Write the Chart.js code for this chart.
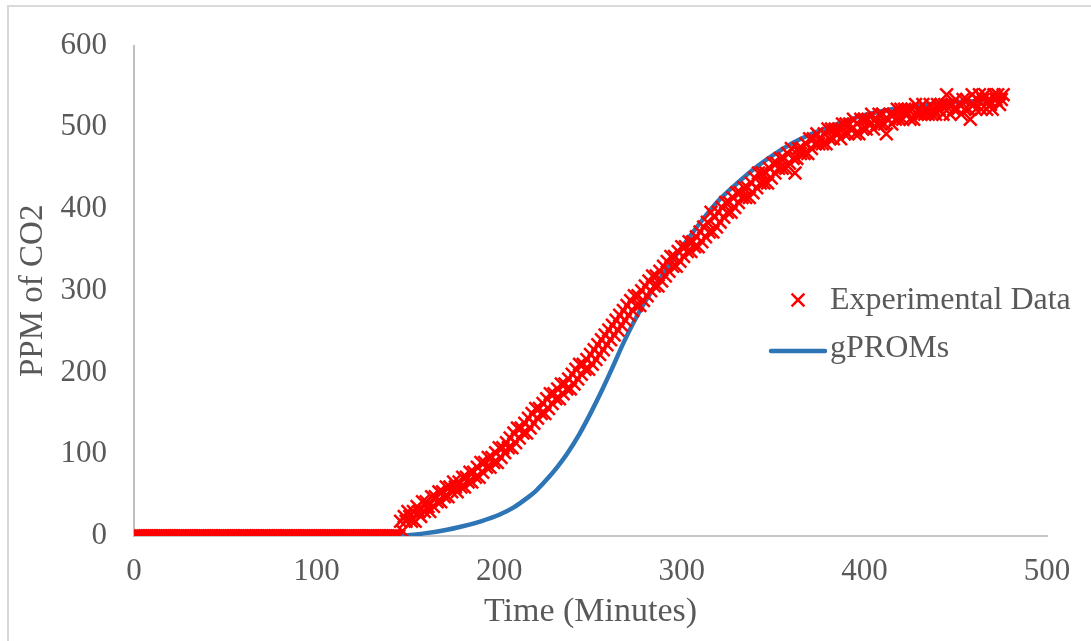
<!DOCTYPE html>
<html>
<head>
<meta charset="utf-8">
<script src="https://cdn.jsdelivr.net/npm/chart.js@4/dist/chart.umd.min.js"></script>
<style>
  html, body { margin: 0; padding: 0; background: #fff; overflow: hidden; }
  #frame { position: absolute; left: 7px; top: 5px; width: 1200px; height: 800px; border: 2px solid #d9d9d9; box-sizing: border-box; }
  #wrap { position: absolute; left: 0; top: 0; width: 1091px; height: 641px; }
</style>
</head>
<body>
<div id="frame"></div>
<div id="wrap"><canvas id="c" width="1091" height="641"></canvas></div>
<script>
// Measured CO2 concentration (ppm), one reading per minute
const expTime = [
  0, 1, 2, 3, 4, 5, 6, 7, 8, 9, 10, 11, 12, 13, 14, 15, 16, 17, 18, 19,
  20, 21, 22, 23, 24, 25, 26, 27, 28, 29, 30, 31, 32, 33, 34, 35, 36, 37, 38, 39,
  40, 41, 42, 43, 44, 45, 46, 47, 48, 49, 50, 51, 52, 53, 54, 55, 56, 57, 58, 59,
  60, 61, 62, 63, 64, 65, 66, 67, 68, 69, 70, 71, 72, 73, 74, 75, 76, 77, 78, 79,
  80, 81, 82, 83, 84, 85, 86, 87, 88, 89, 90, 91, 92, 93, 94, 95, 96, 97, 98, 99,
  100, 101, 102, 103, 104, 105, 106, 107, 108, 109, 110, 111, 112, 113, 114, 115, 116, 117, 118, 119,
  120, 121, 122, 123, 124, 125, 126, 127, 128, 129, 130, 131, 132, 133, 134, 135, 136, 137, 138, 139,
  140, 141, 142, 143, 144, 145,
  146, 147, 148, 149, 150, 151, 152, 153, 154, 155,
  156, 157, 158, 159, 160, 161, 162, 163, 164, 165,
  166, 167, 168, 169, 170, 171, 172, 173, 174, 175,
  176, 177, 178, 179, 180, 181, 182, 183, 184, 185,
  186, 187, 188, 189, 190, 191, 192, 193, 194, 195,
  196, 197, 198, 199, 200, 201, 202, 203, 204, 205,
  206, 207, 208, 209, 210, 211, 212, 213, 214, 215,
  216, 217, 218, 219, 220, 221, 222, 223, 224, 225,
  226, 227, 228, 229, 230, 231, 232, 233, 234, 235,
  236, 237, 238, 239, 240, 241, 242, 243, 244, 245,
  246, 247, 248, 249, 250, 251, 252, 253, 254, 255,
  256, 257, 258, 259, 260, 261, 262, 263, 264, 265,
  266, 267, 268, 269, 270, 271, 272, 273, 274, 275,
  276, 277, 278, 279, 280, 281, 282, 283, 284, 285,
  286, 287, 288, 289, 290, 291, 292, 293, 294, 295,
  296, 297, 298, 299, 300, 301, 302, 303, 304, 305,
  306, 307, 308, 309, 310, 311, 312, 313, 314, 315,
  316, 317, 318, 319, 320, 321, 322, 323, 324, 325,
  326, 327, 328, 329, 330, 331, 332, 333, 334, 335,
  336, 337, 338, 339, 340, 341, 342, 343, 344, 345,
  346, 347, 348, 349, 350, 351, 352, 353, 354, 355,
  356, 357, 358, 359, 360, 361, 362, 363, 364, 365,
  366, 367, 368, 369, 370, 371, 372, 373, 374, 375,
  376, 377, 378, 379, 380, 381, 382, 383, 384, 385,
  386, 387, 388, 389, 390, 391, 392, 393, 394, 395,
  396, 397, 398, 399, 400, 401, 402, 403, 404, 405,
  406, 407, 408, 409, 410, 411, 412, 413, 414, 415,
  416, 417, 418, 419, 420, 421, 422, 423, 424, 425,
  426, 427, 428, 429, 430, 431, 432, 433, 434, 435,
  436, 437, 438, 439, 440, 441, 442, 443, 444, 445,
  446, 447, 448, 449, 450, 451, 452, 453, 454, 455,
  456, 457, 458, 459, 460, 461, 462, 463, 464, 465,
  466, 467, 468, 469, 470, 471, 472, 473, 474, 475,
  476
];
const expPpm = [
  0, 0, 0, 0, 0, 0, 0, 0, 0, 0, 0, 0, 0, 0, 0, 0, 0, 0, 0, 0,
  0, 0, 0, 0, 0, 0, 0, 0, 0, 0, 0, 0, 0, 0, 0, 0, 0, 0, 0, 0,
  0, 0, 0, 0, 0, 0, 0, 0, 0, 0, 0, 0, 0, 0, 0, 0, 0, 0, 0, 0,
  0, 0, 0, 0, 0, 0, 0, 0, 0, 0, 0, 0, 0, 0, 0, 0, 0, 0, 0, 0,
  0, 0, 0, 0, 0, 0, 0, 0, 0, 0, 0, 0, 0, 0, 0, 0, 0, 0, 0, 0,
  0, 0, 0, 0, 0, 0, 0, 0, 0, 0, 0, 0, 0, 0, 0, 0, 0, 0, 0, 0,
  0, 0, 0, 0, 0, 0, 0, 0, 0, 0, 0, 0, 0, 0, 0, 0, 0, 0, 0, 0,
  0, 0, 0, 0, 0, 0,
  18, 6, 24, 18, 30, 24, 18, 30, 18, 36,
  30, 24, 42, 30, 42, 36, 30, 48, 36, 48,
  42, 54, 42, 54, 48, 60, 48, 60, 54, 66,
  60, 54, 66, 60, 72, 60, 72, 66, 78, 66,
  78, 72, 84, 72, 90, 78, 90, 84, 96, 84,
  96, 90, 102, 90, 108, 96, 108, 102, 114, 108,
  120, 108, 126, 114, 132, 120, 132, 126, 138, 126,
  144, 132, 150, 138, 156, 144, 156, 150, 162, 150,
  168, 156, 174, 162, 174, 168, 180, 168, 186, 174,
  186, 180, 192, 180, 198, 186, 204, 192, 210, 198,
  210, 204, 216, 204, 222, 210, 228, 216, 234, 222,
  240, 228, 246, 234, 252, 240, 258, 246, 264, 252,
  270, 258, 276, 264, 282, 270, 288, 276, 294, 282,
  294, 282, 300, 288, 306, 294, 312, 300, 318, 306,
  318, 306, 324, 312, 330, 318, 336, 324, 342, 330,
  342, 330, 348, 336, 354, 342, 354, 348, 360, 348,
  360, 354, 366, 354, 372, 360, 378, 366, 384, 372,
  396, 372, 390, 378, 396, 384, 402, 390, 408, 396,
  408, 396, 414, 402, 420, 408, 420, 414, 426, 414,
  426, 414, 432, 420, 438, 426, 444, 432, 444, 432,
  444, 432, 450, 438, 456, 444, 456, 450, 462, 450,
  462, 450, 468, 456, 474, 462, 444, 462, 474, 468,
  474, 468, 480, 468, 486, 474, 486, 480, 492, 480,
  486, 480, 492, 480, 498, 486, 498, 486, 498, 492,
  498, 486, 504, 492, 504, 492, 504, 498, 510, 492,
  504, 492, 510, 498, 510, 498, 510, 504, 516, 498,
  510, 504, 516, 504, 516, 504, 492, 510, 516, 504,
  516, 510, 522, 510, 522, 510, 522, 516, 522, 510,
  522, 510, 528, 516, 522, 516, 528, 516, 522, 516,
  528, 516, 522, 516, 528, 522, 528, 516, 528, 540,
  528, 516, 528, 522, 534, 522, 528, 516, 534, 522,
  534, 522, 510, 540, 528, 522, 534, 540, 522, 534,
  540, 522, 534, 528, 522, 540, 534, 540, 528, 534,
  540
];

// gPROMs model prediction
const modelTime = [
  145, 150, 160, 170, 180, 190, 200, 208, 215, 220, 226, 232, 237, 244, 250, 256, 262, 268,
  274, 280, 286, 292, 300, 310, 320, 330, 340, 350, 360, 370, 380, 390, 400, 410, 420, 430,
  440, 450, 460, 470, 476
];
const modelPpm = [
  0, 1, 3.5, 7, 12, 18, 26, 35, 46, 55, 69, 85, 100, 125, 150, 177, 206, 236,
  263, 287, 308, 328, 353, 383, 410, 431, 450, 466, 480, 491, 500, 508, 515, 520, 524, 527,
  529, 531, 532, 533, 533
];

const seriesNames = ['Experimental Data', 'gPROMs'];
const axisTitles = { x: 'Time (Minutes)', y: 'PPM of CO2' };

const FONT = "'Liberation Serif', 'Times New Roman', serif";
const TEXT = '#595959';

const toPoints = (xs, ys) => xs.map((x, i) => ({ x: x, y: ys[i] }));

// Legend drawn inside the plot, to the right of the curves
const floatingLegend = {
  id: 'floatingLegend',
  afterDatasetsDraw(chart, args, opts) {
    const ctx = chart.ctx;
    ctx.save();
    chart.data.datasets.forEach((ds, i) => {
      const row = opts.rows[i];
      if (ds.showLine) {
        ctx.strokeStyle = ds.borderColor;
        ctx.lineWidth = ds.borderWidth;
        ctx.lineCap = 'round';
        ctx.beginPath();
        ctx.moveTo(opts.symbolX - opts.lineHalf, row.symbolY);
        ctx.lineTo(opts.symbolX + opts.lineHalf, row.symbolY);
        ctx.stroke();
      } else {
        ctx.strokeStyle = ds.borderColor;
        ctx.fillStyle = ds.backgroundColor;
        ctx.lineWidth = ds.borderWidth;
        ctx.lineCap = 'butt';
        Chart.helpers.drawPoint(ctx, {
          pointStyle: ds.pointStyle, radius: ds.pointRadius,
          borderWidth: ds.borderWidth, rotation: 0
        }, opts.symbolX, row.symbolY);
      }
      ctx.font = opts.fontSize + 'px ' + FONT;
      ctx.fillStyle = TEXT;
      ctx.textAlign = 'left';
      ctx.textBaseline = 'middle';
      ctx.fillText(ds.label, opts.textX, row.textY);
    });
    ctx.restore();
  }
};

new Chart(document.getElementById('c'), {
  type: 'scatter',
  data: {
    datasets: [
      {
        label: seriesNames[0],
        data: toPoints(expTime, expPpm),
        pointStyle: 'crossRot',
        pointRadius: 9,
        borderWidth: 2.5,
        borderColor: '#ff0000',
        backgroundColor: '#ff0000',
        showLine: false
      },
      {
        label: seriesNames[1],
        data: toPoints(modelTime, modelPpm),
        showLine: true,
        pointRadius: 0,
        borderColor: '#2e75b6',
        backgroundColor: '#2e75b6',
        borderWidth: 4.5,
        cubicInterpolationMode: 'monotone',
        borderCapStyle: 'round'
      }
    ]
  },
  options: {
    responsive: false,
    animation: false,
    devicePixelRatio: 1,
    layout: { padding: { left: 0, top: 39, right: 44, bottom: 0 } },
    plugins: {
      legend: { display: false },
      tooltip: { enabled: false },
      floatingLegend: {
        symbolX: 798,
        lineHalf: 27,
        textX: 830,
        fontSize: 32,
        rows: [ { symbolY: 300, textY: 301 }, { symbolY: 351, textY: 349 } ]
      }
    },
    scales: {
      x: {
        type: 'linear',
        min: 0, max: 500,
        afterFit: (s) => { s.height = 105; },
        grid: { display: false, drawTicks: false },
        border: { display: true, color: '#c6c6c6', width: 2 },
        ticks: { stepSize: 100, padding: 17, color: TEXT, font: { family: FONT, size: 31 } },
        title: { display: true, text: axisTitles.x, color: TEXT, font: { family: FONT, size: 34 }, padding: { top: 0, bottom: 9 } }
      },
      y: {
        type: 'linear',
        min: 0, max: 600,
        afterFit: (s) => { s.width = 134; },
        grid: { display: false, drawTicks: false },
        border: { display: true, color: '#bfbfbf', width: 2 },
        ticks: { stepSize: 100, padding: 27, color: TEXT, font: { family: FONT, size: 31 } },
        title: { display: true, text: axisTitles.y, color: TEXT, font: { family: FONT, size: 33 }, padding: { top: 14, bottom: 0 } }
      }
    }
  },
  plugins: [floatingLegend]
});
</script>
</body>
</html>
